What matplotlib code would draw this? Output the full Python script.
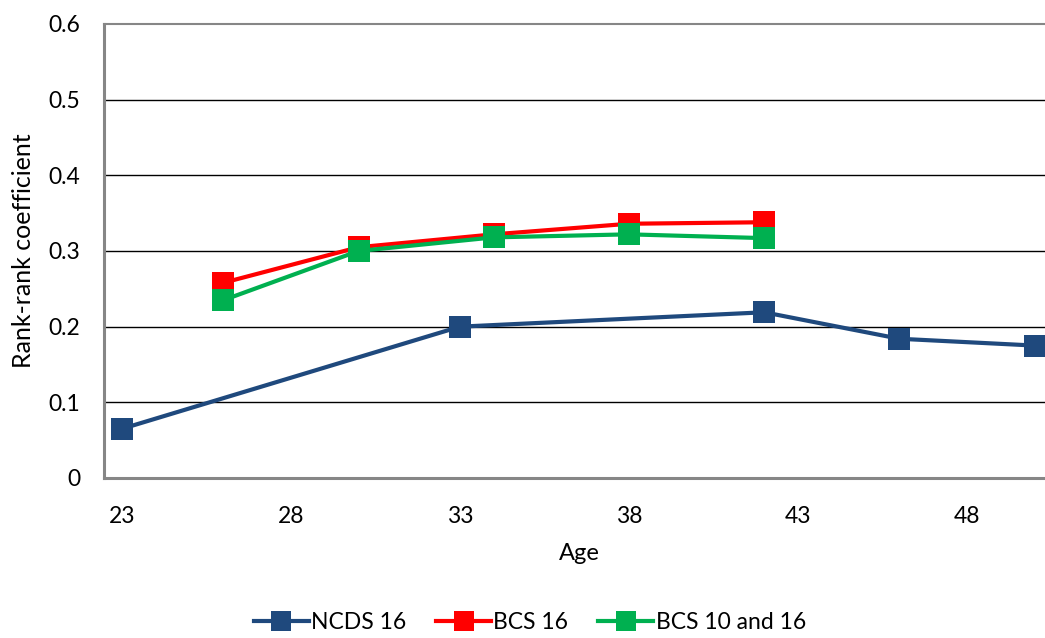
import matplotlib.pyplot as plt

plt.rcParams['font.family'] = ['Lato', 'DejaVu Sans']

ncds_age = [23, 33, 42, 46, 50]
ncds_coef = [0.065, 0.200, 0.219, 0.184, 0.175]

bcs_age = [26, 30, 34, 38, 42]
bcs16_coef = [0.258, 0.305, 0.322, 0.336, 0.338]
bcs1016_coef = [0.235, 0.300, 0.318, 0.322, 0.317]

xticks = [23, 28, 33, 38, 43, 48]
yticks = [0, 0.1, 0.2, 0.3, 0.4, 0.5, 0.6]

fig = plt.figure(figsize=(10.45, 6.38), dpi=100)
ax = fig.add_axes([0.0995, 0.2508, 0.91, 0.7116])

style = dict(marker='s', markersize=16, linewidth=3, markeredgewidth=0)
ax.plot(ncds_age, ncds_coef, color='#1F497D', label='NCDS 16', **style)
ax.plot(bcs_age, bcs16_coef, color='#FF0000', label='BCS 16', **style)
ax.plot(bcs_age, bcs1016_coef, color='#00B050', label='BCS 10 and 16', **style)

ax.set_xlim(22.47, 50.6)
ax.set_ylim(0, 0.6)
ax.set_xticks(xticks)
ax.set_yticks(yticks)
ax.set_yticklabels(['0', '0.1', '0.2', '0.3', '0.4', '0.5', '0.6'])
ax.tick_params(axis='both', length=0, labelsize=16.5)
ax.tick_params(axis='y', pad=17)
ax.tick_params(axis='x', pad=20)

for y in yticks[1:-1]:
    ax.axhline(y, color='black', linewidth=1, zorder=0)

for side in ['left', 'bottom', 'top']:
    ax.spines[side].set_color('#868686')
ax.spines['left'].set_linewidth(2.2)
ax.spines['bottom'].set_linewidth(2.2)
ax.spines['top'].set_linewidth(1.5)
ax.spines['right'].set_visible(False)

ax.set_xlabel('Age', fontsize=17, labelpad=12)
ax.set_ylabel('Rank-rank coefficient', fontsize=18, labelpad=10)

fig.legend(loc='lower center', ncol=3, bbox_to_anchor=(0.507, -0.025), frameon=False,
           fontsize=16.5, handlelength=2.4, handletextpad=0.1, columnspacing=1.3, markerscale=0.9)

plt.savefig('out.png', dpi=100)
